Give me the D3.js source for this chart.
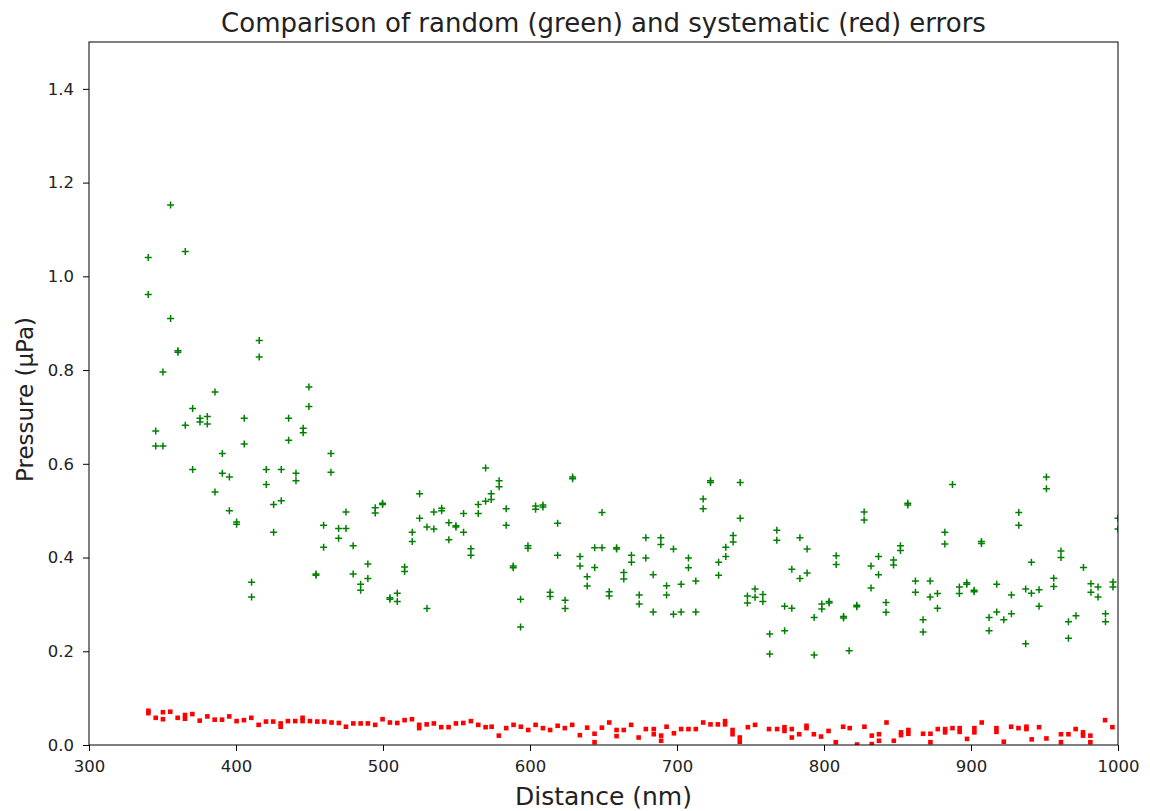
<!DOCTYPE html>
<html>
<head>
<meta charset="utf-8">
<script src="https://cdn.jsdelivr.net/npm/d3@7"></script>
<style>
  body { margin: 0; background: #fff; }
  text { font-family: "DejaVu Sans", sans-serif; fill: #222; }
</style>
</head>
<body>
<div id="container"></div>
<script>
// random errors (green +)
var greenDist = [
  340.3,340.3, 345.4,345.4, 350.3,350.3, 355.5,355.5, 360.5,360.5, 365.5,365.5, 370.5,370.5, 375.5,375.5,
  380.5,380.5, 385.7,385.7, 390.7,390.7, 395.5,395.5, 400.4,400.4, 405.6,405.6, 410.6,410.6, 415.8,415.8,
  420.6,420.6, 425.6,425.6, 430.8,430.8, 435.8,435.8, 440.8,440.8, 445.7,445.7, 449.6,449.6, 454.4,454.4,
  459.6,459.6, 464.6,464.6, 469.8,469.8, 474.8,474.8, 479.7,479.7, 484.8,484.8, 489.7,489.7, 494.7,494.7,
  499.7,499.7, 504.7,504.7, 509.7,509.7, 514.7,514.7, 519.9,519.9, 524.9,524.9, 529.9,529.9, 534.6,534.6,
  539.9,539.9, 544.8,544.8, 549.6,549.6, 554.8,554.8, 559.8,559.8, 564.8,564.8, 569.8,569.8, 573.6,573.6,
  579.0,579.0, 583.8,583.8, 588.6,588.6, 593.6,593.6, 598.6,598.6, 603.8,603.8, 608.8,608.8, 613.7,613.7,
  618.8,618.8, 623.9,623.9, 629.0,629.0, 634.0,634.0, 638.9,638.9, 644.0,644.0, 649.0,649.0, 653.9,653.9,
  658.9,658.9, 663.8,663.8, 669.0,669.0, 674.3,674.3, 678.8,678.8, 683.8,683.8, 689.0,689.0, 692.9,692.9,
  697.6,697.6, 702.8,702.8, 707.8,707.8, 712.8,712.8, 717.8,717.8, 722.8,722.8, 728.3,728.3, 733.2,733.2,
  738.2,738.2, 743.0,743.0, 747.9,747.9, 753.1,753.1, 758.4,758.4, 763.1,763.1, 767.9,767.9, 773.2,773.2,
  778.1,778.1, 783.6,783.6, 788.5,788.5, 793.3,793.3, 798.5,798.5, 803.5,803.5, 808.3,808.3, 813.3,813.3,
  817.1, 822.3,822.3, 827.3,827.3, 832.0,832.0, 837.1,837.1, 842.2,842.2, 847.3,847.3, 852.0,852.0,
  857.0,857.0, 862.2,862.2, 867.4,867.4, 872.2,872.2, 877.2,877.2, 882.2,882.2, 887.4, 892.1,892.1,
  897.1,897.1, 902.1,902.1, 907.1,907.1, 912.3,912.3, 917.5,917.5, 922.3, 927.5,927.5, 932.5,932.5,
  937.2,937.2, 941.1,941.1, 946.3,946.3, 951.3,951.3, 956.3,956.3, 961.2,961.2, 966.3,966.3, 971.4,
  976.5, 981.6,981.6, 986.4,986.4, 991.5,991.5, 996.6,996.6, 1000,1000
];
var greenPress = [
  1.040,0.961, 0.670,0.638, 0.796,0.638, 1.152,0.910, 0.841,0.838, 1.053,0.682, 0.718,0.588, 0.697,0.689,
  0.701,0.685, 0.753,0.540, 0.622,0.580, 0.572,0.500, 0.476,0.471, 0.697,0.642, 0.347,0.316, 0.863,0.828,
  0.588,0.556, 0.513,0.454, 0.588,0.521, 0.697,0.650, 0.580,0.564, 0.676,0.666, 0.764,0.722, 0.365,0.362,
  0.469,0.422, 0.622,0.582, 0.462,0.441, 0.497,0.462, 0.425,0.365, 0.343,0.330, 0.386,0.355, 0.506,0.495,
  0.516,0.513, 0.314,0.311, 0.324,0.306, 0.380,0.370, 0.454,0.434, 0.536,0.484, 0.465,0.291, 0.497,0.461,
  0.505,0.500, 0.474,0.438, 0.468,0.465, 0.494,0.454, 0.419,0.405, 0.513,0.494, 0.591,0.520, 0.536,0.524,
  0.564,0.551, 0.504,0.469, 0.382,0.378, 0.311,0.252, 0.425,0.420, 0.510,0.503, 0.512,0.508, 0.326,0.317,
  0.473,0.405, 0.309,0.291, 0.572,0.568, 0.402,0.382, 0.359,0.339, 0.421,0.379, 0.496,0.421, 0.327,0.318,
  0.421,0.418, 0.368,0.354, 0.405,0.390, 0.320,0.301, 0.442,0.399, 0.363,0.284, 0.442,0.428, 0.340,0.320,
  0.418,0.279, 0.343,0.284, 0.399,0.378, 0.350,0.284, 0.525,0.504, 0.564,0.560, 0.390,0.362, 0.422,0.402,
  0.447,0.433, 0.560,0.484, 0.318,0.303, 0.333,0.315, 0.321,0.306, 0.237,0.194, 0.458,0.437, 0.296,0.244,
  0.375,0.292, 0.442,0.355, 0.418,0.367, 0.272,0.192, 0.301,0.290, 0.306,0.303, 0.404,0.385, 0.274,0.271,
  0.201, 0.298,0.295, 0.497,0.480, 0.382,0.335, 0.402,0.363, 0.304,0.283, 0.395,0.384, 0.425,0.415,
  0.516,0.512, 0.350,0.326, 0.267,0.241, 0.350,0.316, 0.323,0.292, 0.454,0.429, 0.556, 0.337,0.323,
  0.346,0.343, 0.330,0.327, 0.434,0.430, 0.272,0.244, 0.343,0.284, 0.267, 0.320,0.280, 0.496,0.469,
  0.333,0.216, 0.390,0.324, 0.331,0.296, 0.572,0.547, 0.356,0.338, 0.414,0.400, 0.263,0.228, 0.276,
  0.379, 0.344,0.326, 0.337,0.316, 0.280,0.263, 0.348,0.337, 0.484,0.461
];

// systematic errors (red squares)
var redDist = [
  340.4,340.4, 345.4, 350.3,350.3, 355.3, 360.3, 365.3,365.3, 370.3, 375.3, 380.5, 385.5, 390.5, 395.4,
  400.4, 405.4, 410.4, 415.4, 420.4, 425.3, 430.4,430.4, 435.3, 440.3, 445.3,445.3, 450.3, 455.3, 460.0,
  465.0, 470.0, 474.8, 479.8, 484.8, 489.7, 494.7, 499.7, 504.7, 509.7, 514.7, 519.7, 524.6,524.6, 529.7,
  534.6, 539.6, 544.6, 549.6, 554.6, 559.8, 564.8, 569.8, 573.9, 578.8, 583.8, 588.8, 593.8, 598.8, 603.8,
  608.8, 613.7, 618.8, 623.7, 628.7, 633.9, 638.9, 643.9,643.9, 648.9, 653.9, 658.9,658.9, 663.8, 668.8,
  673.9, 678.8, 684.2,684.2, 689.2,689.2, 692.9, 697.9, 702.8, 707.8, 712.8, 717.8, 722.8, 727.8,
  732.7,732.7, 737.8,737.8, 742.7,742.7, 748.2, 753.1, 762.6, 768.1, 773.1,773.1, 778.1,778.1, 783.1,
  788.1,788.1, 793.1, 798.0, 803.1, 808.0, 813.0, 817.5, 822.5, 827.5, 832.5,832.5, 837.4,837.4, 842.5,
  847.5, 852.4,852.4, 857.4,857.4, 867.4, 872.4,872.4, 877.4, 882.4,882.4, 887.4, 892.3,892.3, 897.3,
  902.3,902.3, 907.3, 917.3,917.3, 922.3, 927.3, 932.3, 937.7,937.7, 941.3, 946.3, 951.3, 961.2,961.2,
  966.3, 971.2, 976.2,976.2, 981.2,981.2, 991.2, 996.2
];
var redPress = [
  0.073,0.068, 0.058, 0.070,0.055, 0.071, 0.058, 0.064,0.056, 0.066, 0.052, 0.061, 0.054, 0.054, 0.061,
  0.051, 0.053, 0.058, 0.043, 0.050, 0.050, 0.046,0.039, 0.051, 0.051, 0.058,0.051, 0.051, 0.050, 0.050,
  0.048, 0.047, 0.039, 0.046, 0.046, 0.046, 0.043, 0.055, 0.048, 0.047, 0.053, 0.055, 0.043,0.036, 0.044,
  0.046, 0.038, 0.038, 0.046, 0.047, 0.051, 0.043, 0.038, 0.039, 0.020, 0.036, 0.043, 0.039, 0.032, 0.043,
  0.036, 0.032, 0.041, 0.036, 0.043, 0.021, 0.037, 0.024,0.006, 0.037, 0.048, 0.032,0.019, 0.032, 0.043,
  0.016, 0.034, 0.034,0.023, 0.020,0.009, 0.039, 0.025, 0.034, 0.034, 0.034, 0.048, 0.044, 0.044,
  0.051,0.044, 0.032,0.023, 0.016,0.007, 0.038, 0.043, 0.034, 0.034, 0.038,0.030, 0.034,0.016, 0.023,
  0.041,0.036, 0.023, 0.018, 0.030, 0.006, 0.039, 0.036, 0.001, 0.039, 0.020,0.002, 0.023,0.009, 0.048,
  0.009, 0.027,0.021, 0.032,0.024, 0.024, 0.024,0.006, 0.034, 0.034,0.027, 0.036, 0.036,0.028, 0.013,
  0.036,0.027, 0.048, 0.036,0.028, 0.007, 0.039, 0.036, 0.039,0.034, 0.012, 0.038, 0.014, 0.023,0.006,
  0.023, 0.034, 0.027,0.020, 0.020,0.006, 0.053, 0.038
];

var xTicks = [300, 400, 500, 600, 700, 800, 900, 1000];
var yTicks = [0, 0.2, 0.4, 0.6, 0.8, 1.0, 1.2, 1.4];

var titleText = 'Comparison of random (green) and systematic (red) errors';
var xLabel = 'Distance (nm)';
var yLabel = 'Pressure (\u00b5Pa)';

var W = 1150, H = 811;
var margin = { top: 42, right: 32, bottom: 66, left: 89 },
	width = W - margin.left - margin.right,
	height = H - margin.top - margin.bottom;

var svg = d3.select('#container').append('svg')
	.attr('width', W)
	.attr('height', H);

var g = svg.append('g')
	.attr('transform', 'translate(' + margin.left + ',' + margin.top + ')');

var x = d3.scaleLinear().domain([300, 1000]).range([0, width]);
var y = d3.scaleLinear().domain([0, 1.5]).range([height, 0]);

g.append('clipPath').attr('id', 'clip')
	.append('rect').attr('width', width).attr('height', height);

var plot = g.append('g').attr('clip-path', 'url(#clip)');

// green plus markers
var greenData = greenDist.map(function(d, i){ return { x: d, y: greenPress[i] }; });
plot.selectAll('path.plus')
	.data(greenData)
	.enter().append('path')
	.classed('plus', true)
	.attr('d', function(d){
		var cx = x(d.x), cy = y(d.y), r = 3.5;
		return 'M' + (cx - r) + ',' + cy + 'H' + (cx + r) + 'M' + cx + ',' + (cy - r) + 'V' + (cy + r);
	})
	.style('stroke', '#008000')
	.style('stroke-width', 1.5)
	.style('fill', 'none');

// red square markers
var redData = redDist.map(function(d, i){ return { x: d, y: redPress[i] }; });
plot.selectAll('rect.sq')
	.data(redData)
	.enter().append('rect')
	.classed('sq', true)
	.attr('x', function(d){ return x(d.x) - 2.3; })
	.attr('y', function(d){ return y(d.y) - 2.3; })
	.attr('width', 4.6)
	.attr('height', 4.6)
	.style('fill', '#ff0000');

// axes
var xAxis = g.append('g')
	.attr('transform', 'translate(0,' + height + ')')
	.call(d3.axisBottom(x).tickValues(xTicks).tickFormat(d3.format('d')).tickSizeOuter(0).tickSize(6).tickPadding(9));
var yAxis = g.append('g')
	.call(d3.axisLeft(y).tickValues(yTicks).tickFormat(d3.format('.1f')).tickSizeOuter(0).tickSize(6).tickPadding(9));

[xAxis, yAxis].forEach(function(a){
	a.select('.domain').remove();
	a.selectAll('line').style('stroke', '#000').style('stroke-width', 1);
	a.selectAll('text').style('font-size', '16.5px').style('fill', '#222').style('font-family', '"DejaVu Sans", sans-serif');
});

// frame
g.append('rect')
	.attr('width', width).attr('height', height)
	.style('fill', 'none').style('stroke', '#000').style('stroke-width', 1);

// titles
svg.append('text')
	.attr('x', margin.left + width / 2).attr('y', 32)
	.attr('text-anchor', 'middle')
	.style('font-size', '26px')
	.text(titleText);

svg.append('text')
	.attr('x', margin.left + width / 2).attr('y', 805)
	.attr('text-anchor', 'middle')
	.style('font-size', '25px')
	.text(xLabel);

svg.append('text')
	.attr('transform', 'translate(33,' + (margin.top + height / 2 + 6) + ') rotate(-90)')
	.attr('text-anchor', 'middle')
	.style('font-size', '23px')
	.text(yLabel);
</script>
</body>
</html>
